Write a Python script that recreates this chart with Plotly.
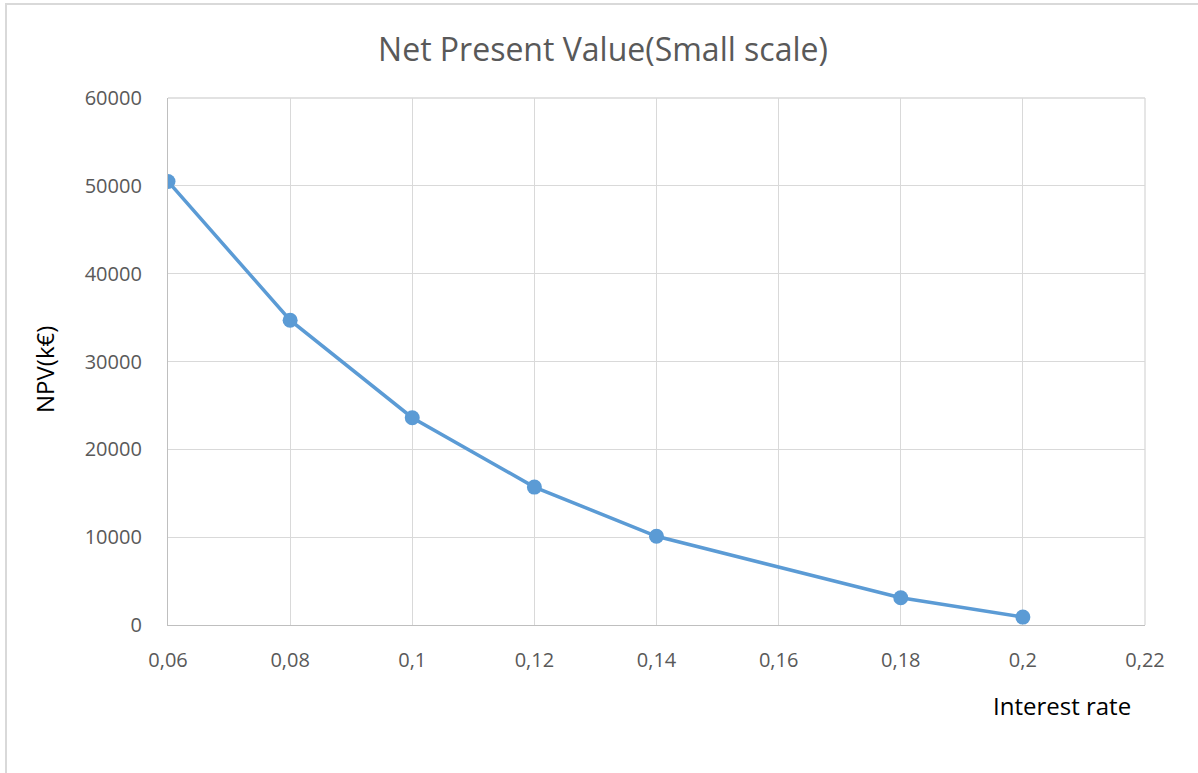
import plotly.graph_objects as go

# Interest rates and the resulting net present value (k€)
rates = [0.06, 0.08, 0.10, 0.12, 0.14, 0.18, 0.20]
npv = [50500, 34700, 23600, 15700, 10100, 3100, 900]

x_ticks = [0.06, 0.08, 0.10, 0.12, 0.14, 0.16, 0.18, 0.20, 0.22]
x_tick_text = ["0,06", "0,08", "0,1", "0,12", "0,14", "0,16", "0,18", "0,2", "0,22"]
y_ticks = [0, 10000, 20000, 30000, 40000, 50000, 60000]
y_tick_text = ["0", "10000", "20000", "30000", "40000", "50000", "60000"]

W, H = 1198, 773
L, R, T, B = 168, 53, 98, 148
pw, ph = W - L - R, H - T - B

FONT = "Open Sans, Noto Sans, sans-serif"
GRID = "#d9d9d9"
BLUE = "#5b9bd5"

fig = go.Figure(
    go.Scatter(
        x=rates, y=npv, mode="lines+markers",
        line=dict(color=BLUE, width=3.5),
        marker=dict(color=BLUE, size=15),
        showlegend=False,
    )
)

fig.update_layout(
    width=W, height=H,
    margin=dict(l=L, r=R, t=T, b=B),
    paper_bgcolor="white", plot_bgcolor="white",
    title=dict(
        text="Net Present Value(Small scale)",
        x=(603) / W, xanchor="center",
        y=1 - 50 / H, yanchor="middle",
        font=dict(family=FONT, size=32, color="#595959"),
    ),
    font=dict(family=FONT),
)

fig.update_xaxes(
    range=[0.06, 0.22], tickvals=x_ticks, ticktext=x_tick_text,
    showgrid=True, gridcolor=GRID, gridwidth=1.3,
    showline=True, linecolor="#bfbfbf", linewidth=1.3, mirror=False,
    zeroline=False, ticks="", ticklabelstandoff=17,
    tickfont=dict(family=FONT, size=20, color="#595959"),
)
fig.update_yaxes(
    range=[0, 60000], tickvals=y_ticks, ticktext=y_tick_text,
    showgrid=True, gridcolor=GRID, gridwidth=1.3,
    showline=True, linecolor="#bfbfbf", linewidth=1.3,
    zeroline=False, ticks="", ticklabelstandoff=21,
    tickfont=dict(family=FONT, size=20, color="#595959"),
)

# Right and top plot-area edges
fig.add_shape(type="line", xref="paper", yref="paper", x0=1, x1=1, y0=0, y1=1,
              line=dict(color=GRID, width=1.3))
fig.add_shape(type="line", xref="paper", yref="paper", x0=0, x1=1, y0=1, y1=1,
              line=dict(color=GRID, width=1.3))

# Chart-area frame
fig.add_shape(type="rect", xref="paper", yref="paper",
              x0=(6 - L) / pw, x1=(W + 10 - L) / pw,
              y0=-(H + 10 - (T + ph)) / ph, y1=(T + ph - 4) / ph,
              line=dict(color="#d9d9d9", width=2), layer="below")

# Axis titles
fig.add_annotation(text="Interest rate", xref="paper", yref="paper",
                   x=(1062 - L) / pw, y=-(705 - (T + ph)) / ph,
                   xanchor="center", yanchor="middle", showarrow=False,
                   font=dict(family=FONT, size=24, color="black"))
fig.add_annotation(text="NPV(k€)", xref="paper", yref="paper",
                   x=(44 - L) / pw, y=(T + ph - 370) / ph, textangle=-90,
                   xanchor="center", yanchor="middle", showarrow=False,
                   font=dict(family=FONT, size=24, color="black"))

fig.write_html("out.html")
